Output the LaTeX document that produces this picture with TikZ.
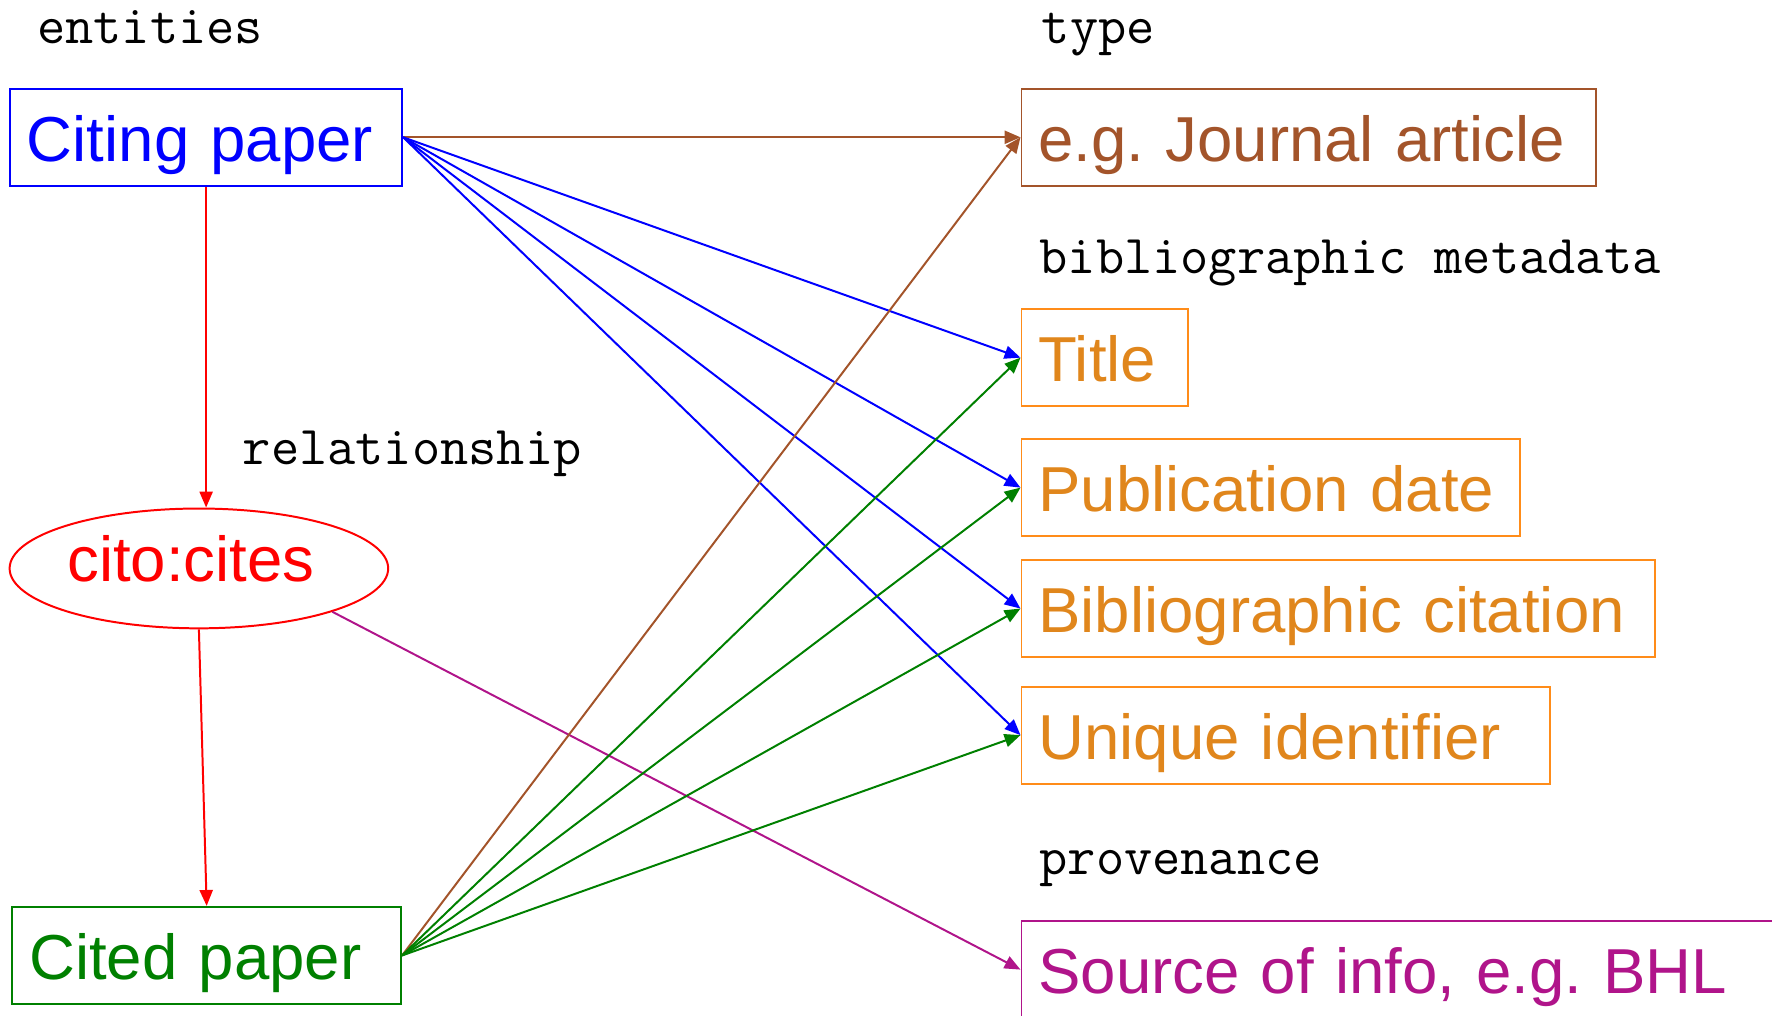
\documentclass[tikz,border=0pt]{standalone}
\usepackage{fontspec}
\setmainfont{Liberation Sans}
\usepackage{xcolor}
\definecolor{Blue}{RGB}{0,0,255}
\definecolor{Red}{RGB}{255,0,0}
\definecolor{Green}{RGB}{0,128,0}
\definecolor{Brown}{RGB}{163,84,42}
\definecolor{Orange}{RGB}{255,140,25}
\definecolor{OrangeText}{RGB}{224,134,28}
\definecolor{Purple}{RGB}{176,20,138}
\definecolor{Black}{RGB}{0,0,0}
\usetikzlibrary{arrows.meta, shapes.geometric}
\frenchspacing

\begin{document}
\begin{tikzpicture}[
		line width=0.5pt,
		every node/.style={inner sep=0pt},
		infobox/.style={draw, rectangle, anchor=west, align=left, inner xsep=1.5mm, minimum height=8.6mm,
			text height=5.4mm, text depth=1.1mm, font=\fontsize{16}{19}\selectfont},
		heading/.style={anchor=base west, color=Black, font=\ttfamily\fontsize{13.8}{16}\selectfont},
		conn/.style={-{Triangle[length=4pt, width=3.3pt]}},
	]
		
		\useasboundingbox (0mm, 0mm) rectangle (156.8mm, -89.9mm);
		
		% Rectangle
		\node[infobox, draw=Blue, text=Blue, text width=31.7mm] (citing) at (0.8mm, -12.15mm) {Citing paper};
		\node[infobox, draw=Green, text=Green, text width=31.4mm] (cited) at (1.0mm, -84.55mm) {Cited paper};
		\node[draw=Red, text=Red, ellipse, minimum width=33.5mm, minimum height=10.6mm, text height=3.4mm, text depth=1.0mm,
			font=\fontsize{16}{19}\selectfont] (cites) at (17.6mm, -50.3mm) {\hspace*{-1.4mm}cito:cites};
		
		\node[infobox, draw=Brown, text=Brown, text width=47.8mm] (journal) at (90.3mm, -12.15mm) {e.g. Journal article};
		\node[infobox, draw=Orange, text=OrangeText, text width=11.7mm] (title) at (90.3mm, -31.65mm) {Title};
		\node[infobox, draw=Orange, text=OrangeText, text width=41.1mm] (pubdate) at (90.3mm, -43.15mm) {Publication date};
		\node[infobox, draw=Orange, text=OrangeText, text width=53.1mm] (citation) at (90.3mm, -53.85mm) {Bibliographic citation};
		\node[infobox, draw=Orange, text=OrangeText, text width=43.8mm] (identifier) at (90.3mm, -65.05mm) {Unique identifier};
		\node[infobox, draw=Purple, text=Purple, text width=80mm] (source) at (90.3mm, -85.8mm) {Source of info, e.g. BHL};
		
		% Text
		\node[heading] (entities) at (3.2mm, -3.82mm) {entities};
		\node[heading] (type) at (92.1mm, -3.82mm) {type};
		\node[heading] (metadata) at (91.9mm, -24.2mm) {bibliographic metadata};
		\node[heading] (relationship) at (21.4mm, -41.1mm) {relationship};
		\node[heading] (provenance) at (91.9mm, -77.35mm) {provenance};
		
		% Lines
		\draw[conn, Brown] (citing.east) -- (journal.west);
		\foreach \target in {title, pubdate, citation, identifier}
			\draw[conn, Blue] (citing.east) -- (\target.west);
		\draw[conn, Red] (citing.south) -- (citing.south |- cites.north);
		\draw[conn, Red] (cites.south) -- (cited.north);
		\draw[conn, Purple] (cites.-18) -- (source.west);
		\draw[conn, Brown] (cited.east) -- (journal.west);
		\foreach \target in {title, pubdate, citation, identifier}
			\draw[conn, Green] (cited.east) -- (\target.west);
		
	\end{tikzpicture}
\end{document}
